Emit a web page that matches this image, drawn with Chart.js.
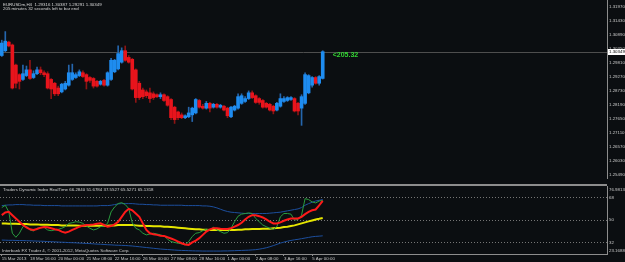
<!DOCTYPE html>
<html>
<head>
<meta charset="utf-8">
<script src="https://cdn.jsdelivr.net/npm/chart.js@4.4.1/dist/chart.umd.min.js"></script>
<style>
  html, body { margin: 0; padding: 0; background: #0b0e11; }
  #wrap { position: relative; width: 625px; height: 262px; overflow: hidden; }
  canvas { position: absolute; left: 0; }
  #main { top: 0; }
  #sub { top: 186px; }
</style>
</head>
<body>
<div id="wrap">
  <canvas id="main" width="625" height="186"></canvas>
  <canvas id="sub" width="625" height="76"></canvas>
</div>
<script>
/*******************************************************************************/
// Datos

const symbolText = "EURUSDm,H4  1.29316 1.30387 1.29291 1.30349";
const timerText = "205 minutes 32 seconds left to bar end";
const timerLabel = "<205.32";
const subTitle = "Traders Dynamic Index RealTime 66.2840 51.6784 37.5527 65.5271 65.1318";
const copyright = "Interbank FX Trader 4, \u00a9 2001-2012, MetaQuotes Software Corp.";

const timeTickBars = [0, 8, 16, 24, 32, 40, 48, 56, 64, 72, 80, 88];
const timeLabels = ["15 Mar 2013", "18 Mar 16:00", "20 Mar 00:00", "21 Mar 08:00", "22 Mar 16:00",
    "26 Mar 00:00", "27 Mar 08:00", "28 Mar 16:00", "1 Apr 00:00", "2 Apr 08:00", "3 Apr 16:00", "5 Apr 00:00"];

const priceTicks = [1.31970, 1.31430, 1.30890, 1.30350, 1.29810, 1.29270, 1.28730,
    1.28190, 1.27650, 1.27110, 1.26570, 1.26030, 1.25490];
const levelTicks = [68, 50, 32];
const subMax = 76.9813;
const subMin = 23.1688;

const opens = [1.30202, 1.30387, 1.30720, 1.30609, 1.29832, 1.29462, 1.29277, 1.29425, 1.29647, 1.29351,
    1.29499, 1.29647, 1.29536, 1.29499, 1.29277, 1.29129, 1.28944, 1.28796, 1.28907, 1.29055,
    1.29277, 1.29351, 1.29425, 1.29536, 1.29462, 1.29351, 1.29314, 1.29203, 1.29092, 1.29240,
    1.29055, 1.29277, 1.29573, 1.29684, 1.29943, 1.30387, 1.30128, 1.30054, 1.29647, 1.29129,
    1.28870, 1.28796, 1.28759, 1.28722, 1.28685, 1.28611, 1.28685, 1.28611, 1.28500, 1.28204,
    1.28019, 1.27908, 1.27797, 1.27834, 1.27908, 1.27982, 1.28463, 1.28241, 1.28167, 1.28352,
    1.28204, 1.28315, 1.28204, 1.28241, 1.28167, 1.27834, 1.28093, 1.28167, 1.28352, 1.28426,
    1.28537, 1.28759, 1.28648, 1.28537, 1.28463, 1.28352, 1.28315, 1.28241, 1.28093, 1.28241,
    1.28426, 1.28463, 1.28500, 1.28537, 1.28352, 1.28167, 1.28352, 1.28759, 1.29055, 1.29351,
    1.29129, 1.29316];
const highs = [1.30794, 1.31127, 1.30757, 1.30646, 1.29869, 1.29499, 1.29832, 1.29795, 1.30017, 1.29610,
    1.29758, 1.29758, 1.29610, 1.29573, 1.29314, 1.29166, 1.29018, 1.29129, 1.29203, 1.29832,
    1.29869, 1.29536, 1.29647, 1.29610, 1.29499, 1.29388, 1.29351, 1.29240, 1.29240, 1.29277,
    1.29573, 1.30091, 1.30054, 1.30572, 1.30498, 1.30572, 1.30202, 1.30091, 1.29684, 1.29203,
    1.28944, 1.28870, 1.28944, 1.28796, 1.28722, 1.28759, 1.28722, 1.28648, 1.28537, 1.28241,
    1.28056, 1.27982, 1.27908, 1.28204, 1.28204, 1.28537, 1.28500, 1.28315, 1.28426, 1.28389,
    1.28352, 1.28352, 1.28315, 1.28278, 1.28204, 1.28241, 1.28278, 1.28722, 1.28722, 1.28611,
    1.28833, 1.28833, 1.28685, 1.28574, 1.28500, 1.28389, 1.28352, 1.28278, 1.28389, 1.28722,
    1.28611, 1.28611, 1.28611, 1.28574, 1.28389, 1.28685, 1.29536, 1.29462, 1.29388, 1.29388,
    1.29425, 1.30387];
const lows = [1.30165, 1.30350, 1.30535, 1.28907, 1.28944, 1.28907, 1.29240, 1.29388, 1.29277, 1.29314,
    1.29462, 1.29462, 1.29388, 1.28907, 1.28537, 1.28648, 1.28648, 1.28759, 1.28870, 1.29018,
    1.29240, 1.29314, 1.29388, 1.29351, 1.28907, 1.29166, 1.28944, 1.28981, 1.29055, 1.29018,
    1.29018, 1.29240, 1.29536, 1.29647, 1.29906, 1.29980, 1.29906, 1.28870, 1.28389, 1.28500,
    1.28537, 1.28574, 1.28389, 1.28500, 1.28574, 1.28537, 1.28426, 1.28241, 1.27723, 1.27575,
    1.27723, 1.27760, 1.27760, 1.27797, 1.27649, 1.27945, 1.28167, 1.28130, 1.28130, 1.28019,
    1.28167, 1.28167, 1.28167, 1.28056, 1.27797, 1.27797, 1.28056, 1.28130, 1.28315, 1.28389,
    1.28500, 1.28537, 1.28352, 1.28315, 1.28167, 1.28167, 1.28056, 1.27945, 1.28056, 1.28204,
    1.28389, 1.28426, 1.28463, 1.28019, 1.27908, 1.27501, 1.28315, 1.28722, 1.28981, 1.29092,
    1.29055, 1.29291];
const closes = [1.30683, 1.30757, 1.30572, 1.28944, 1.29129, 1.29203, 1.29499, 1.29647, 1.29314, 1.29499,
    1.29647, 1.29536, 1.29462, 1.28944, 1.28907, 1.28722, 1.28722, 1.29092, 1.29129, 1.29536,
    1.29536, 1.29462, 1.29573, 1.29388, 1.29203, 1.29240, 1.29018, 1.29018, 1.29203, 1.29055,
    1.29536, 1.30017, 1.30017, 1.30276, 1.30387, 1.30017, 1.29943, 1.28907, 1.28574, 1.28574,
    1.28611, 1.28648, 1.28537, 1.28574, 1.28611, 1.28685, 1.28463, 1.28278, 1.27797, 1.27723,
    1.27797, 1.27797, 1.27871, 1.27982, 1.28167, 1.28500, 1.28204, 1.28167, 1.28352, 1.28167,
    1.28315, 1.28204, 1.28278, 1.28093, 1.27871, 1.28204, 1.28241, 1.28611, 1.28648, 1.28537,
    1.28759, 1.28574, 1.28389, 1.28389, 1.28204, 1.28204, 1.28093, 1.28056, 1.28352, 1.28537,
    1.28537, 1.28574, 1.28574, 1.28056, 1.28056, 1.28611, 1.29462, 1.29425, 1.29351, 1.29129,
    1.29388, 1.30349];

// Traders Dynamic Index
const rsiLine = [59.9, 61.7, 56.5, 39.6, 36.4, 39.6, 44.8, 45.3, 42.2, 41.4,
    43.5, 44.0, 44.3, 42.2, 41.6, 42.2, 42.7, 43.5, 44.8, 47.4,
    47.9, 48.7, 48.4, 47.4, 45.3, 43.5, 42.2, 43.0, 44.8, 45.3,
    47.4, 56.5, 60.4, 63.1, 63.8, 62.3, 59.1, 47.9, 43.5, 42.2,
    39.6, 38.3, 39.0, 39.6, 39.0, 38.3, 37.5, 34.9, 33.0, 32.3,
    31.7, 31.2, 30.4, 33.0, 37.0, 39.6, 40.1, 41.6, 42.7, 42.2,
    44.3, 42.2, 40.9, 39.6, 40.1, 43.5, 48.7, 53.1, 54.7, 55.2,
    55.7, 55.2, 51.3, 48.7, 46.1, 44.8, 43.5, 42.7, 44.8, 52.6,
    55.2, 55.2, 54.7, 50.0, 50.5, 53.9, 67.0, 66.2, 64.4, 63.6,
    65.1, 65.5271];
const signalLine = [53.9, 56.0, 56.5, 53.9, 51.3, 48.7, 46.1, 44.3, 42.7, 42.2,
    43.0, 44.0, 44.5, 44.3, 43.5, 42.7, 42.2, 40.9, 40.1, 40.9,
    42.2, 43.5, 44.8, 45.6, 46.1, 46.3, 46.6, 47.1, 47.4, 46.1,
    44.8, 45.3, 46.6, 48.7, 52.6, 56.5, 58.9, 57.8, 55.2, 52.6,
    47.4, 42.2, 39.6, 38.8, 38.3, 37.7, 37.5, 36.4, 35.4, 34.3,
    33.0, 31.7, 30.7, 30.4, 32.3, 33.8, 35.7, 38.3, 40.9, 42.7,
    43.5, 43.5, 43.2, 43.0, 43.0, 43.5, 44.8, 46.1, 47.9, 50.5,
    52.6, 53.9, 53.9, 53.1, 52.1, 50.5, 48.7, 47.4, 47.4, 48.2,
    49.5, 50.5, 51.3, 51.3, 51.3, 52.6, 54.7, 56.5, 57.8, 58.4,
    61.7, 65.1318];
const baseLine = [47.39, 47.39, 47.13, 47.13, 47.13, 46.87, 46.87, 46.87, 46.61, 46.61,
    46.61, 46.35, 46.35, 46.35, 46.09, 46.09, 46.09, 45.82, 45.82, 45.82,
    45.82, 45.82, 45.56, 45.56, 45.56, 45.56, 45.56, 45.56, 45.56, 45.56,
    45.56, 45.82, 45.82, 46.09, 46.09, 46.09, 46.09, 46.09, 45.82, 45.56,
    45.56, 45.30, 45.30, 45.04, 45.04, 45.04, 44.78, 44.78, 44.52, 44.26,
    44.00, 43.74, 43.48, 43.21, 42.95, 42.69, 42.69, 42.43, 42.43, 42.17,
    42.17, 42.17, 42.17, 42.17, 42.17, 42.17, 42.17, 42.43, 42.43, 42.69,
    42.69, 42.95, 42.95, 42.95, 43.21, 43.21, 43.21, 43.48, 43.74, 44.00,
    44.52, 44.78, 45.30, 45.82, 46.61, 47.39, 48.17, 48.96, 49.74, 50.52,
    51.04, 51.6784];
const upperBand = [61.48, 61.75, 62.01, 62.01, 62.27, 62.27, 62.27, 62.01, 62.01, 61.75,
    61.75, 61.75, 61.48, 61.48, 61.48, 61.48, 61.48, 61.22, 61.22, 61.22,
    61.22, 61.22, 61.22, 61.22, 61.22, 61.22, 61.22, 61.22, 61.48, 61.48,
    61.48, 61.75, 62.27, 62.79, 63.05, 63.05, 63.05, 63.05, 62.79, 62.53,
    62.53, 62.27, 62.27, 62.01, 62.01, 61.75, 61.75, 61.75, 61.75, 61.75,
    61.75, 61.75, 61.48, 61.48, 61.48, 61.48, 61.48, 61.22, 61.22, 60.96,
    60.44, 59.66, 58.61, 57.57, 56.79, 56.26, 56.00, 55.74, 55.48, 55.22,
    55.22, 55.22, 55.22, 55.22, 55.22, 55.22, 55.48, 55.74, 56.00, 56.26,
    56.79, 57.31, 57.83, 58.35, 58.87, 59.92, 61.75, 63.05, 64.09, 65.14,
    65.66, 66.2840];
const lowerBand = [34.2, 34.1, 34.0, 34.0, 33.9, 33.8, 33.8, 33.7, 33.6, 33.5,
    33.4, 33.3, 33.2, 33.0, 32.9, 32.8, 32.6, 32.5, 32.4, 32.2,
    32.1, 32.0, 31.8, 31.7, 31.5, 31.4, 31.2, 31.0, 30.9, 30.7,
    30.5, 30.4, 30.2, 30.1, 30.0, 29.9, 29.7, 29.5, 29.2, 28.9,
    28.6, 28.3, 28.0, 27.7, 27.4, 27.1, 26.9, 26.7, 26.5, 26.3,
    26.1, 26.0, 25.9, 25.8, 25.7, 25.6, 25.6, 25.5, 25.5, 25.5,
    25.5, 25.5, 25.5, 25.6, 25.6, 25.7, 25.8, 25.9, 26.0, 26.1,
    26.2, 26.4, 26.6, 27.0, 27.5, 28.1, 28.9, 29.8, 30.8, 31.8,
    32.6, 33.3, 33.9, 34.4, 34.8, 35.3, 35.8, 36.3, 36.8, 37.1,
    37.3, 37.5527];

/*******************************************************************************/
// Estilo

const smallFont = { family: "'Liberation Sans', Arial, sans-serif", size: 4.4 };
const textColor = "#c8c8c8";
const frameColor = "#8d8d8d";
const bodyUp = "#1e8cf0";
const bodyDown = "#e8141c";
const wickUp = "#2566ad";
const wickDown = "#8e1414";

const isUp = (i) => closes[i] >= opens[i];

function ejeTiempo(mostrar) {
    return {
        type: "linear",
        display: mostrar,
        min: -0.5,
        max: 171.6,
        offset: false,
        afterBuildTicks: (s) => { s.ticks = timeTickBars.map((v) => ({ value: v })); },
        afterFit: (s) => { s.height = 8; s.paddingLeft = 0; s.paddingRight = 0; },
        grid: { offset: false, drawOnChartArea: false, drawTicks: true, tickLength: 2, tickColor: frameColor },
        border: { display: true, color: frameColor, width: 1 },
        ticks: {
            autoSkip: false, maxRotation: 0, align: "start", padding: 0,
            color: textColor, font: smallFont,
            callback: (v) => timeLabels[timeTickBars.indexOf(v)]
        }
    };
}

function texto(ctx, str, x, y, color, font) {
    ctx.fillStyle = color;
    ctx.font = font;
    ctx.textAlign = "left";
    ctx.textBaseline = "middle";
    ctx.fillText(str, x, y);
}

const smallCss = "4.4px 'Liberation Sans', Arial, sans-serif";

/*******************************************************************************/
// Grafico principal (velas)

const decorPrincipal = {
    id: "decorPrincipal",
    beforeDatasetsDraw(chart) {
        const { ctx, chartArea } = chart;
        const yp = Math.round(chart.scales.y.getPixelForValue(closes[closes.length - 1])) + 0.5;
        ctx.save();
        ctx.strokeStyle = "#4e4e4e";
        ctx.lineWidth = 1;
        ctx.beginPath();
        ctx.moveTo(chartArea.left, yp);
        ctx.lineTo(chartArea.right, yp);
        ctx.stroke();
        ctx.restore();
    },
    afterDraw(chart) {
        const { ctx, chartArea } = chart;
        const last = closes.length - 1;
        const yp = chart.scales.y.getPixelForValue(closes[last]);
        const xp = chart.scales.x.getPixelForValue(last);
        ctx.save();
        texto(ctx, symbolText, 3, 4.5, "#d8d8d8", smallCss);
        texto(ctx, timerText, 3, 9.2, "#d8d8d8", smallCss);
        texto(ctx, timerLabel, xp + 10, yp + 3.5, "#33d633", "bold 7px 'Liberation Sans', Arial, sans-serif");
        // caja del precio actual
        ctx.fillStyle = "#ffffff";
        ctx.fillRect(chartArea.right + 1, Math.round(yp) - 3, 18, 6);
        texto(ctx, closes[last].toFixed(5), chartArea.right + 2, Math.round(yp), "#000000", smallCss);
        // separador de ventanas
        ctx.fillStyle = frameColor;
        ctx.fillRect(0, 184, chartArea.right, 2);
        ctx.restore();
    }
};

new Chart(document.getElementById("main"), {
    type: "bar",
    data: {
        datasets: [
            {
                data: opens.map((o, i) => ({ x: i, y: [lows[i], highs[i]] })),
                backgroundColor: (c) => (isUp(c.dataIndex) ? wickUp : wickDown),
                barThickness: 1,
                grouped: false,
                order: 2
            },
            {
                data: opens.map((o, i) => ({ x: i, y: [Math.min(o, closes[i]), Math.max(o, closes[i])] })),
                backgroundColor: (c) => (isUp(c.dataIndex) ? bodyUp : bodyDown),
                barThickness: 3,
                minBarLength: 1,
                grouped: false,
                order: 1
            }
        ]
    },
    options: {
        responsive: false,
        animation: false,
        devicePixelRatio: 1,
        events: [],
        layout: { padding: 0 },
        plugins: { legend: { display: false }, tooltip: { enabled: false } },
        scales: {
            x: ejeTiempo(false),
            y: {
                position: "right",
                min: 1.25466,
                max: 1.32348,
                beginAtZero: false,
                afterBuildTicks: (s) => { s.ticks = priceTicks.map((v) => ({ value: v })); },
                afterFit: (s) => { s.width = 18; s.paddingTop = 0; s.paddingBottom = 0; },
                grid: { display: false, drawTicks: false },
                border: { display: true, color: frameColor, width: 1 },
                ticks: {
                    autoSkip: false, padding: 2, labelOffset: -3,
                    color: textColor, font: smallFont,
                    callback: (v) => v.toFixed(5)
                }
            }
        }
    },
    plugins: [decorPrincipal]
});

/*******************************************************************************/
// Subventana TDI

const decorTDI = {
    id: "decorTDI",
    afterDraw(chart) {
        const { ctx, chartArea } = chart;
        ctx.save();
        texto(ctx, subTitle, 3, 4.2, "#d0d0d0", smallCss);
        texto(ctx, copyright, 2, 64.5, "#c8c8c8", smallCss);
        texto(ctx, subMax.toFixed(4), chartArea.right + 2, 3.5, textColor, smallCss);
        texto(ctx, subMin.toFixed(4), chartArea.right + 2, 65, textColor, smallCss);
        ctx.restore();
    }
};

const puntos = (arr) => arr.map((v, i) => ({ x: i, y: v }));
const linea = (arr, color, ancho, orden) => ({
    data: puntos(arr), borderColor: color, borderWidth: ancho,
    pointRadius: 0, tension: 0, fill: false, order: orden
});

new Chart(document.getElementById("sub"), {
    type: "line",
    data: {
        datasets: [
            linea(upperBand, "#1d4f9e", 1, 5),
            linea(lowerBand, "#1d4f9e", 1, 4),
            linea(baseLine, "#e6e600", 2, 3),
            linea(rsiLine, "#2a9d3f", 1, 2),
            linea(signalLine, "#ff1a1a", 2, 1)
        ]
    },
    options: {
        responsive: false,
        animation: false,
        devicePixelRatio: 1,
        events: [],
        layout: { padding: 0 },
        plugins: { legend: { display: false }, tooltip: { enabled: false } },
        scales: {
            x: ejeTiempo(true),
            y: {
                position: "right",
                min: subMin,
                max: subMax,
                afterBuildTicks: (s) => { s.ticks = levelTicks.map((v) => ({ value: v })); },
                afterFit: (s) => { s.width = 18; s.paddingTop = 0; s.paddingBottom = 0; },
                grid: { color: "#767676", drawTicks: false, lineWidth: 1 },
                border: { display: true, color: frameColor, width: 1, dash: [1, 2] },
                ticks: {
                    autoSkip: false, padding: 2,
                    color: textColor, font: smallFont,
                    callback: (v) => String(v)
                }
            }
        }
    },
    plugins: [decorTDI]
});
</script>
</body>
</html>
